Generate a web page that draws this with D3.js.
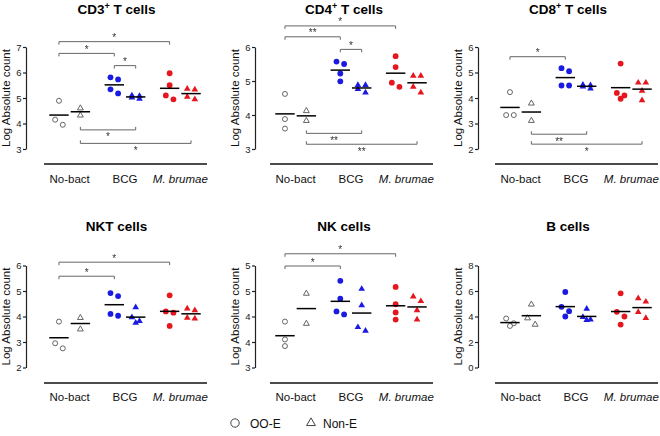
<!DOCTYPE html>
<html><head><meta charset="utf-8">
<script src="https://cdn.jsdelivr.net/npm/d3@7"></script>
<style>
body{margin:0;background:#fff}
svg{display:block}
text{font-family:"Liberation Sans",Arial,Helvetica,sans-serif}
</style>
</head><body>
<svg id="chart" width="660" height="436">
  <defs><filter id="mono" x="-20%" y="-20%" width="140%" height="140%"><feColorMatrix type="saturate" values="0"/></filter></defs>
</svg>
<script>
// ---------------- DATA ----------------
const categories = ["No-bact", "BCG", "M. brumae"];
const groups = ["OO-E", "Non-E"];
const titles = [["CD3", "+", " T cells"], ["CD4", "+", " T cells"], ["CD8", "+", " T cells"],
                ["NKT cells", "", ""], ["NK cells", "", ""], ["B cells", "", ""]];

// Log absolute counts: one inner array per category (No-bact, BCG, M. brumae)
const cd3_OOE  = [[4.89, 4.15, 3.95], [5.81, 5.73, 5.34, 5.18], [5.97, 5.50, 5.10, 4.95]];
const cd3_NonE = [[4.60, 4.32], [5.10, 5.08, 5.02, 4.97], [5.36, 5.33, 5.05, 4.95]];
const cd4_OOE  = [[4.62, 3.88, 3.60], [5.57, 5.50, 5.22, 4.99], [5.73, 5.41, 4.95, 4.83]];
const cd4_NonE = [[4.12, 3.83], [4.88, 4.88, 4.76, 4.66], [5.15, 5.15, 4.83, 4.66]];
const cd8_OOE  = [[4.23, 3.33, 3.33], [5.17, 5.05, 4.49, 4.49], [5.35, 4.20, 4.10, 3.97]];
const cd8_NonE = [[3.79, 3.11], [4.52, 4.50, 4.45, 4.37], [4.60, 4.60, 4.28, 3.91]];
const nkt_OOE  = [[3.80, 2.95, 2.75], [4.92, 4.80, 4.10, 4.03], [4.83, 4.20, 4.15, 3.63]];
const nkt_NonE = [[3.95, 3.50], [4.36, 3.97, 3.82, 3.75], [4.31, 4.24, 3.95, 3.92]];
const nk_OOE   = [[3.90, 3.55, 3.42], [4.70, 4.35, 4.10, 4.04], [4.58, 4.24, 4.08, 3.94]];
const nk_NonE  = [[4.45, 3.86], [4.54, 4.22, 3.79, 3.72], [4.39, 4.30, 4.12, 3.94]];
const b_OOE    = [[3.84, 3.47, 3.26], [5.92, 4.76, 4.42, 4.00], [5.82, 4.37, 4.00, 3.37]];
const b_NonE   = [[4.95, 3.87, 3.37], [4.60, 3.95, 3.75, 3.72], [5.42, 5.16, 4.34, 3.87]];

// Axis domains and ticks
const cd3_ticks = [3, 4, 5, 6, 7];       const cd3_tickLabels = ["3", "4", "5", "6", "7"];
const cd4_ticks = [3, 4, 5, 6];          const cd4_tickLabels = ["3", "4", "5", "6"];
const cd8_ticks = [2, 3, 4, 5, 6];       const cd8_tickLabels = ["2", "3", "4", "5", "6"];
const nkt_ticks = [2, 3, 4, 5, 6];       const nkt_tickLabels = ["2", "3", "4", "5", "6"];
const nk_ticks  = [3, 3.5, 4, 4.5, 5];   const nk_tickLabels  = ["3", "4", "4", "5", "5"];
const b_ticks   = [0, 2, 4, 6, 8];       const b_tickLabels   = ["0", "2", "4", "6", "8"];

// Significance brackets: [fromCategory, fromGroup, toCategory, toGroup, label, level, side]
const cd3_brackets = [
  ["No-bact", "OO-E", "M. brumae", "OO-E", "*", 7.21, "top"],
  ["No-bact", "OO-E", "BCG", "OO-E", "*", 6.75, "top"],
  ["BCG", "OO-E", "BCG", "Non-E", "*", 6.27, "top"],
  ["No-bact", "Non-E", "BCG", "Non-E", "*", 3.75, "bottom"],
  ["No-bact", "Non-E", "M. brumae", "Non-E", "*", 3.22, "bottom"]];
const cd4_brackets = [
  ["No-bact", "OO-E", "M. brumae", "OO-E", "*", 6.62, "top"],
  ["No-bact", "OO-E", "BCG", "OO-E", "**", 6.30, "top"],
  ["BCG", "OO-E", "BCG", "Non-E", "*", 5.93, "top"],
  ["No-bact", "Non-E", "BCG", "Non-E", "**", 3.46, "bottom"],
  ["No-bact", "Non-E", "M. brumae", "Non-E", "**", 3.14, "bottom"]];
const cd8_brackets = [
  ["No-bact", "OO-E", "BCG", "OO-E", "*", 5.62, "top"],
  ["No-bact", "Non-E", "BCG", "Non-E", "**", 2.58, "bottom"],
  ["No-bact", "Non-E", "M. brumae", "Non-E", "*", 2.19, "bottom"]];
const nkt_brackets = [
  ["No-bact", "OO-E", "M. brumae", "OO-E", "*", 6.13, "top"],
  ["No-bact", "OO-E", "BCG", "OO-E", "*", 5.58, "top"]];
const nk_brackets = [
  ["No-bact", "OO-E", "M. brumae", "OO-E", "*", 5.23, "top"],
  ["No-bact", "OO-E", "BCG", "OO-E", "*", 4.99, "top"]];
const b_brackets = [];

// ---------------- STYLE / LAYOUT ----------------
const colorFill = { "No-bact": "#ffffff", "BCG": "#1a1ae0", "M. brumae": "#e5161d" };
const openStroke = "#555";
const FONT = '"Liberation Sans",Arial,Helvetica,sans-serif';

const panels = [
  { title: titles[0], oo: cd3_OOE, ne: cd3_NonE, ticks: cd3_ticks, labels: cd3_tickLabels, br: cd3_brackets },
  { title: titles[1], oo: cd4_OOE, ne: cd4_NonE, ticks: cd4_ticks, labels: cd4_tickLabels, br: cd4_brackets },
  { title: titles[2], oo: cd8_OOE, ne: cd8_NonE, ticks: cd8_ticks, labels: cd8_tickLabels, br: cd8_brackets },
  { title: titles[3], oo: nkt_OOE, ne: nkt_NonE, ticks: nkt_ticks, labels: nkt_tickLabels, br: nkt_brackets },
  { title: titles[4], oo: nk_OOE, ne: nk_NonE, ticks: nk_ticks, labels: nk_tickLabels, br: nk_brackets },
  { title: titles[5], oo: b_OOE, ne: b_NonE, ticks: b_ticks, labels: b_tickLabels, br: b_brackets }
];

const colLeft = [44, 270, 495];
const colAxis = [26, 255, 478];
const baseW = 163;
const rowTop = [47, 265.5];
const plotH = 102;
const rowBase = [164, 383];
const rowTitle = [14, 231];
const rowCat = [182.5, 401];

const svg = d3.select("#chart");

function jitterOffsets(vals, y, d, thr) {
  const off = vals.map(() => 0);
  if (!vals.length) return off;
  const idx = vals.map((v, i) => i).sort((a, b) => vals[b] - vals[a]);
  const chains = [];
  let chain = [idx[0]];
  for (let k = 1; k < idx.length; k++) {
    if (Math.abs(y(vals[idx[k]]) - y(vals[idx[k - 1]])) < thr) chain.push(idx[k]);
    else { chains.push(chain); chain = [idx[k]]; }
  }
  chains.push(chain);
  chains.forEach(c => {
    if (c.length < 2) return;
    c.forEach((j, k) => {
      if (c.length % 2 === 1 && k === c.length - 1) off[j] = 0;
      else off[j] = (k % 2 === 0 ? -d : d);
    });
  });
  return off;
}

panels.forEach((p, i) => {
  const col = i % 3, row = Math.floor(i / 3);
  const left = colLeft[col], axisX = colAxis[col];
  const g = svg.append("g");

  const x = d3.scaleBand().domain(categories).range([left - 2, left + baseW + 1]);
  const sub = d3.scalePoint().domain(groups).range([-10.7, 10.7]);
  const y = d3.scaleLinear().domain([p.ticks[0], p.ticks[p.ticks.length - 1]])
    .range([rowTop[row] + plotH, rowTop[row]]);
  const cx = (cat, grp) => x(cat) + x.bandwidth() / 2 + sub(grp);

  // title
  const t = g.append("text").attr("x", (axisX + left + baseW) / 2).attr("y", rowTitle[row])
    .attr("text-anchor", "middle").attr("font-size", 13.5).attr("font-weight", "bold").attr("fill", "#000");
  t.append("tspan").text(p.title[0]);
  if (p.title[1]) {
    t.append("tspan").attr("font-size", 9).attr("dy", -5).text(p.title[1]);
    t.append("tspan").attr("dy", 5).text(p.title[2]);
  }

  // y axis
  const ax = g.append("g").attr("transform", `translate(${axisX},0)`)
    .call(d3.axisLeft(y).tickValues(p.ticks).tickFormat((d, k) => p.labels[k]).tickSize(3).tickSizeOuter(0));
  ax.select(".domain").attr("stroke", "#222").attr("stroke-width", 1.2);
  ax.selectAll(".tick line").attr("stroke", "#222").attr("stroke-width", 1.2);
  ax.selectAll(".tick text").attr("font-family", FONT).attr("font-size", 9.5).attr("fill", "#222").attr("x", -4.5);

  g.append("text").attr("transform", `translate(${axisX - 20},${rowTop[row] + plotH / 2}) rotate(-90)`)
    .attr("text-anchor", "middle").attr("dy", "0.35em").attr("font-size", 11.5).attr("fill", "#111")
    .text("Log Absolute count");

  // baseline under categories
  g.append("line").attr("x1", left).attr("x2", left + baseW)
    .attr("y1", rowBase[row]).attr("y2", rowBase[row]).attr("stroke", "#111").attr("stroke-width", 1.6);

  categories.forEach(c => {
    g.append("text").attr("x", x(c) + x.bandwidth() / 2).attr("y", rowCat[row])
      .attr("text-anchor", "middle").attr("font-size", 11.5).attr("fill", "#111")
      .attr("font-style", c === "M. brumae" ? "italic" : "normal").text(c);
  });

  // brackets
  const bg = g.append("g").attr("filter", "url(#mono)");
  p.br.forEach(b => {
    const x1 = cx(b[0], b[1]), x2 = cx(b[2], b[3]);
    const yy = y(b[5]);
    const dir = b[6] === "top" ? 3 : -3;
    bg.append("path").attr("d", `M${x1},${yy + dir}V${yy}H${x2}V${yy + dir}`)
      .attr("fill", "none").attr("stroke", "#666").attr("stroke-width", 1);
    bg.append("text").attr("x", (x1 + x2) / 2).attr("y", b[6] === "top" ? yy - 0.5 : yy + 10.5)
      .attr("text-anchor", "middle").attr("font-size", 10).attr("fill", "#333").text(b[4]);
  });

  // points
  categories.forEach((c, ci) => {
    groups.forEach(gr => {
      const vals = gr === "OO-E" ? p.oo[ci] : p.ne[ci];
      const off = jitterOffsets(vals, y, 3.8, 6.5);
      const open = c === "No-bact";
      vals.forEach((v, k) => {
        const px = cx(c, gr) + off[k], py = y(v);
        if (gr === "OO-E") {
          g.append("circle").attr("cx", px).attr("cy", py).attr("r", open ? 2.5 : 2.9)
            .attr("fill", colorFill[c]).attr("stroke", open ? openStroke : "none").attr("stroke-width", 0.9);
        } else {
          g.append("path").attr("d", d3.symbol().type(d3.symbolTriangle).size(open ? 15 : 19)())
            .attr("transform", `translate(${px},${py})`)
            .attr("fill", colorFill[c]).attr("stroke", open ? openStroke : "none").attr("stroke-width", 0.9);
        }
      });
      // mean line
      const m = d3.mean(vals);
      g.append("line").attr("x1", cx(c, gr) - 9.7).attr("x2", cx(c, gr) + 9.7)
        .attr("y1", y(m)).attr("y2", y(m)).attr("stroke", "#000").attr("stroke-width", 1.5);
    });
  });
});

// legend
const lg = svg.append("g");
lg.append("circle").attr("cx", 235).attr("cy", 423).attr("r", 4.2)
  .attr("fill", "#fff").attr("stroke", "#444").attr("stroke-width", 1);
lg.append("text").attr("x", 250).attr("y", 427.5).attr("font-size", 12).attr("fill", "#111").text("OO-E");
lg.append("path").attr("d", d3.symbol().type(d3.symbolTriangle).size(34)())
  .attr("transform", "translate(311,423)").attr("fill", "#fff").attr("stroke", "#444").attr("stroke-width", 1);
lg.append("text").attr("x", 323).attr("y", 427.5).attr("font-size", 12).attr("fill", "#111").text("Non-E");
</script>
</body></html>
